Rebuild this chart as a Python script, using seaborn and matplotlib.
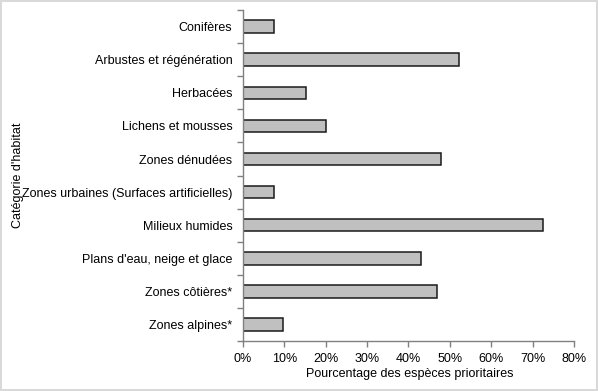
# %% Import packages

import pandas as pd
import seaborn as sns
import matplotlib.pyplot as plt
from matplotlib.ticker import FixedLocator, PercentFormatter

# %% Data

categories = ['Conifères', 'Arbustes et régénération', 'Herbacées', 'Lichens et mousses',
              'Zones dénudées', 'Zones urbaines (Surfaces artificielles)', 'Milieux humides',
              "Plans d'eau, neige et glace", 'Zones côtières*', 'Zones alpines*']
pct_species = [7.6, 52.3, 15.3, 20.0, 47.8, 7.6, 72.4, 43.1, 47.0, 9.6]
x_ticks = [0, 10, 20, 30, 40, 50, 60, 70, 80]

df = pd.DataFrame({'habitat': categories, 'pct': pct_species})

# %% Set figure aesthetics

sns.set_theme(style='white')
plt.rcParams['font.family'] = ['Liberation Sans', 'DejaVu Sans']
plt.rcParams['font.size'] = 9

fig = plt.figure(figsize=(5.98, 3.91), dpi=100)
fig.patch.set_edgecolor('#d9d9d9')
fig.patch.set_linewidth(1.5)
ax = fig.add_axes([0.406, 0.128, 0.554, 0.846])

# %% Bar chart

sns.barplot(data=df, x='pct', y='habitat', orient='h', color='#c0c0c0', saturation=1,
            edgecolor='#1a1a1a', linewidth=1.1, width=0.38, ax=ax)

ax.set_xlim(0, 80)
ax.set_ylim(9.5, -0.5)
ax.set_xticks(x_ticks)
ax.xaxis.set_major_formatter(PercentFormatter(decimals=0))
ax.yaxis.set_minor_locator(FixedLocator([i - 0.5 for i in range(len(categories) + 1)]))

ax.tick_params(axis='y', which='major', length=0, pad=7.5, labelsize=9, labelcolor='black')
ax.tick_params(axis='y', which='minor', left=True, length=4, width=1, color='#808080')
ax.tick_params(axis='x', bottom=True, length=4, width=1, color='#808080', labelsize=9,
               labelcolor='black', pad=5)

for side in ['top', 'right']:
    ax.spines[side].set_visible(False)
for side in ['left', 'bottom']:
    ax.spines[side].set_color('#808080')
    ax.spines[side].set_linewidth(1)

ax.set_xlabel('Pourcentage des espèces prioritaires', fontsize=9, color='black')
ax.set_ylabel("Catégorie d'habitat", fontsize=9, color='black')
ax.xaxis.set_label_coords(0.505, -0.082)
ax.yaxis.set_label_coords(-0.66, 0.5)

plt.savefig('out.png', dpi=100, edgecolor=fig.get_edgecolor())
